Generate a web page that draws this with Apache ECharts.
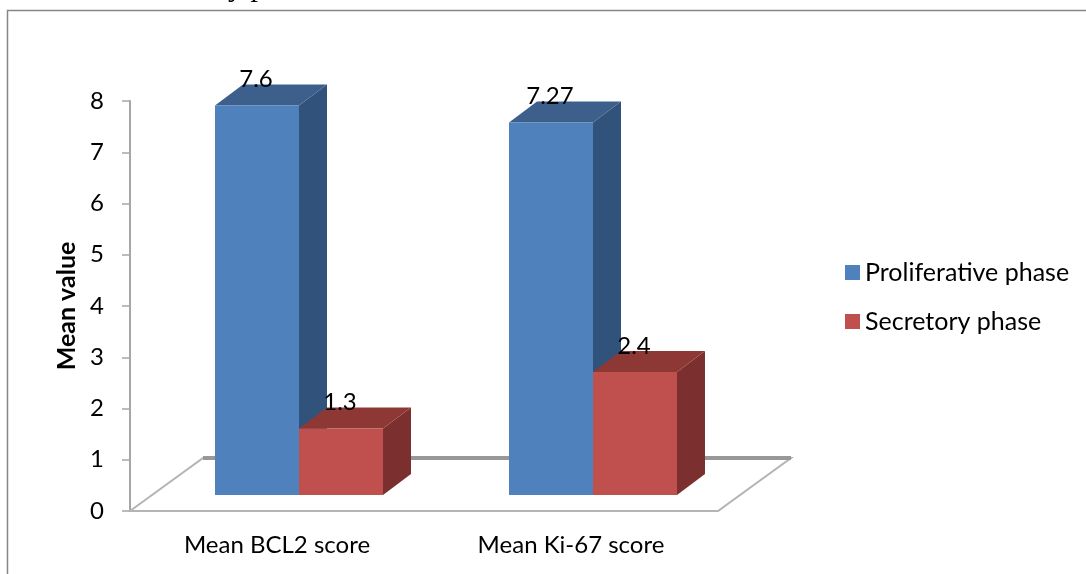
<!DOCTYPE html>
<html>
<head>
<meta charset="utf-8">
<style>html,body{margin:0;padding:0;background:#fff}#chart{width:1086px;height:574px}</style>
<script src="https://cdn.jsdelivr.net/npm/echarts@6/dist/echarts.min.js"></script>
</head>
<body>
<div id="chart"></div>
<script>
// Mean scores per marker and cycle phase
const categories = ['Mean BCL2 score', 'Mean Ki-67 score'];
const proliferative = [7.6, 7.27];
const secretory = [1.3, 2.4];
const valueTicks = [0, 1, 2, 3, 4, 5, 6, 7, 8];

const FONT = 'Lato, "Open Sans", sans-serif';
const DEPTH_X = 28, DEPTH_Y = 21, LIFT = 16, SHIFT = 22, BAR_RATIO = 84 / 294;
const FLOOR_DX = 73, FLOOR_DY = 53;

// Draws one extruded column: side and top faces behind a flat front face.
function columnRenderer(colors, side) {
  return function (params, api) {
    const cat = api.value(0), val = api.value(1);
    const band = api.size([1, 0])[0];
    const w = band * BAR_RATIO;
    const base = api.coord([cat, 0]);
    const top = api.coord([cat, val]);
    const x0 = base[0] + SHIFT + (side < 0 ? -w : 0);
    const x1 = x0 + w;
    const yb = base[1] - LIFT;
    const yt = top[1] - LIFT;
    return {
      type: 'group',
      children: [
        { type: 'polygon', shape: { points: [[x1, yt], [x1 + DEPTH_X, yt - DEPTH_Y], [x1 + DEPTH_X, yb - DEPTH_Y], [x1, yb]] }, style: { fill: colors.side } },
        { type: 'polygon', shape: { points: [[x0, yt], [x0 + DEPTH_X, yt - DEPTH_Y], [x1 + DEPTH_X, yt - DEPTH_Y], [x1, yt]] }, style: { fill: colors.top } },
        { type: 'rect', shape: { x: x0, y: yt, width: w, height: yb - yt }, style: { fill: colors.front } },
        { type: 'text', z2: 50, style: { text: String(val), x: (x0 + x1) / 2 - 1, y: yt - 26, align: 'center', verticalAlign: 'middle', font: '24px ' + FONT, fill: '#000' } }
      ]
    };
  };
}

// Floor plane of the 3D plot, spanning the category axis.
function floorRenderer(params, api) {
  const cs = params.coordSys;
  const l = cs.x, r = cs.x + cs.width, b = cs.y + cs.height;
  return {
    type: 'group',
    children: [
      { type: 'polygon', shape: { points: [[l, b], [l + FLOOR_DX, b - FLOOR_DY], [r + FLOOR_DX, b - FLOOR_DY], [r, b]] }, style: { fill: '#fff', stroke: '#b4b4b4', lineWidth: 2 } },
      { type: 'line', shape: { x1: l + FLOOR_DX, y1: b - FLOOR_DY, x2: r + FLOOR_DX, y2: b - FLOOR_DY }, style: { stroke: '#989898', lineWidth: 4 } }
    ]
  };
}

const chart = echarts.init(document.getElementById('chart'), null, { renderer: 'canvas' });
chart.setOption({
  animation: false,
  backgroundColor: '#fff',
  grid: { left: 130, top: 101, width: 588, height: 410 },
  xAxis: {
    type: 'category',
    data: categories,
    axisLine: { show: false },
    axisTick: { show: false },
    axisLabel: { margin: 22, fontFamily: FONT, fontSize: 24, color: '#000' }
  },
  yAxis: {
    type: 'value',
    min: valueTicks[0],
    max: valueTicks[valueTicks.length - 1],
    interval: 1,
    name: 'Mean value',
    nameLocation: 'middle',
    nameGap: 50,
    nameRotate: 90,
    nameTextStyle: { fontFamily: FONT, fontSize: 25, fontWeight: 'bold', color: '#000' },
    axisLine: { show: true, lineStyle: { color: '#a6a6a6', width: 2 } },
    axisTick: { show: true, length: 8, lineStyle: { color: '#a6a6a6', width: 1.5 } },
    axisLabel: { margin: 26, fontFamily: FONT, fontSize: 24, color: '#000' },
    splitLine: { show: false }
  },
  legend: {
    left: 845,
    top: 260,
    padding: 0,
    orient: 'vertical',
    icon: 'rect',
    itemWidth: 15,
    itemHeight: 15,
    itemGap: 24,
    data: ['Proliferative phase', 'Secretory phase'],
    textStyle: { fontFamily: FONT, fontSize: 25, color: '#000' }
  },
  graphic: [
    { type: 'polyline', shape: { points: [[7.5, 574], [7.5, 10.5], [1086, 10.5]] }, style: { fill: 'none', stroke: '#868686', lineWidth: 1.5 } },
    { type: 'text', x: 228, y: -27, style: { text: 'y p', font: '30px "Liberation Serif", serif', fill: '#000' } }
  ],
  series: [
    { type: 'custom', name: 'floor', coordinateSystem: 'cartesian2d', silent: true, z: 1, renderItem: floorRenderer, data: [[0, 0]] },
    { type: 'custom', name: 'Proliferative phase', z: 2, itemStyle: { color: '#4f81bd' }, encode: { x: 0, y: 1 },
      renderItem: columnRenderer({ front: '#4f81bd', top: '#3c5f8c', side: '#31527a' }, -1),
      data: proliferative.map((v, i) => [i, v]) },
    { type: 'custom', name: 'Secretory phase', z: 3, itemStyle: { color: '#c0504d' }, encode: { x: 0, y: 1 },
      renderItem: columnRenderer({ front: '#c0504d', top: '#8e3836', side: '#7b302f' }, 1),
      data: secretory.map((v, i) => [i, v]) }
  ]
});
</script>
</body>
</html>
